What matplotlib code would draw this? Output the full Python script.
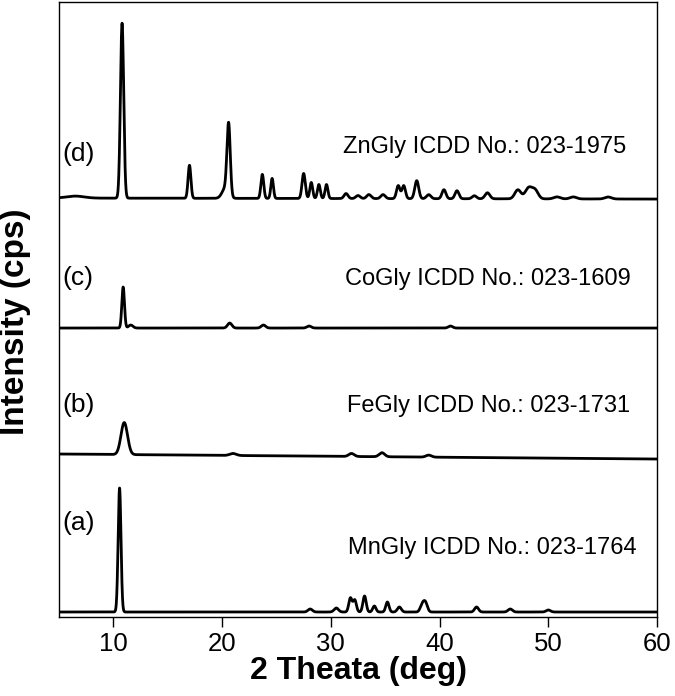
import numpy as np
import matplotlib.pyplot as plt

plt.rcParams['font.family'] = ['Liberation Sans', 'DejaVu Sans']

# --- data (2theta in deg, intensity in plot units) ---
# (a) MnGly
mn_pos = [10.57, 28.1, 30.5, 31.8, 32.2, 33.1, 34.0, 35.2, 36.3, 38.4, 38.7, 43.4, 46.5, 50.0]
mn_hgt = [124, 3, 4, 14, 12, 16, 6, 10, 5, 7, 9, 5, 3, 2]
mn_wid = [0.13, 0.2, 0.2, 0.15, 0.15, 0.15, 0.15, 0.15, 0.18, 0.18, 0.18, 0.18, 0.2, 0.2]
mn_base = [5, 5]

# (b) FeGly
fe_pos = [11.0, 21.0, 31.9, 34.7, 39.0]
fe_hgt = [32, 2, 3, 4, 2]
fe_wid = [0.3, 0.3, 0.25, 0.25, 0.25]
fe_base = [163, 158]

# (c) CoGly
co_pos = [10.9, 11.6, 20.7, 23.8, 28.0, 41.0]
co_hgt = [41, 3, 5, 3, 2, 2]
co_wid = [0.12, 0.2, 0.2, 0.2, 0.2, 0.2]
co_base = [289, 289]

# (d) ZnGly
zn_pos = [6.5, 10.8, 17.0, 20.3, 20.6, 23.7, 24.6, 27.5, 28.2, 28.9, 29.6, 31.4, 32.5,
          33.5, 34.8, 36.2, 36.7, 37.9, 39.0, 40.4, 41.6, 43.2, 44.4, 47.2, 48.2, 48.8,
          50.8, 52.3, 55.5]
zn_hgt = [2, 175, 33, 10, 70, 24, 20, 25, 16, 14, 14, 5, 3,
          4, 4, 13, 13, 18, 4, 9, 8, 3, 6, 9, 11, 8,
          2, 2, 2]
zn_wid = [0.8, 0.15, 0.13, 0.3, 0.15, 0.13, 0.12, 0.15, 0.13, 0.13, 0.13, 0.18, 0.2,
          0.2, 0.2, 0.16, 0.16, 0.18, 0.2, 0.18, 0.18, 0.2, 0.22, 0.28, 0.32, 0.28,
          0.3, 0.3, 0.3]
zn_base = [419, 418]

labels = ['(a)', '(b)', '(c)', '(d)']
cards = ['MnGly ICDD No.: 023-1764', 'FeGly ICDD No.: 023-1731',
         'CoGly ICDD No.: 023-1609', 'ZnGly ICDD No.: 023-1975']

x = np.arange(5, 60.001, 0.01)


def pattern(pos, hgt, wid, base):
    y = np.linspace(base[0], base[1], len(x))
    for p, h, w in zip(pos, hgt, wid):
        y = y + h * np.exp(-0.5 * ((x - p) / w) ** 2)
    return y


fig = plt.figure(figsize=(6.75, 6.96), dpi=100)
ax = fig.add_axes([0.0874, 0.1135, 0.886, 0.8835])

traces = [(mn_pos, mn_hgt, mn_wid, mn_base),
          (fe_pos, fe_hgt, fe_wid, fe_base),
          (co_pos, co_hgt, co_wid, co_base),
          (zn_pos, zn_hgt, zn_wid, zn_base)]
for t in traces:
    ax.plot(x, pattern(*t), color='black', lw=2.0)

# panel letters and card numbers
lab_y = [94, 212, 339, 463]
card_y = [69, 211, 338, 470]
card_x = [31.6, 31.5, 31.3, 31.1]
for i in range(4):
    ax.text(5.3, lab_y[i], labels[i], fontsize=19, va='center', ha='left')
    ax.text(card_x[i], card_y[i], cards[i], fontsize=17, va='center', ha='left')

ax.set_xlim(5, 60)
ax.set_ylim(0, 615)
ax.set_xticks([10, 20, 30, 40, 50, 60])
ax.set_yticks([])
ax.tick_params(axis='x', direction='out', length=7, width=1, labelsize=18.5, pad=4)
for s in ax.spines.values():
    s.set_linewidth(1.0)

ax.set_xlabel('2 Theata (deg)', fontsize=23, fontweight='bold', labelpad=0)
ax.set_ylabel('Intensity (cps)', fontsize=24, fontweight='bold')
ax.yaxis.set_label_coords(-0.047, 0.48)

fig.savefig('out.png', dpi=100)
